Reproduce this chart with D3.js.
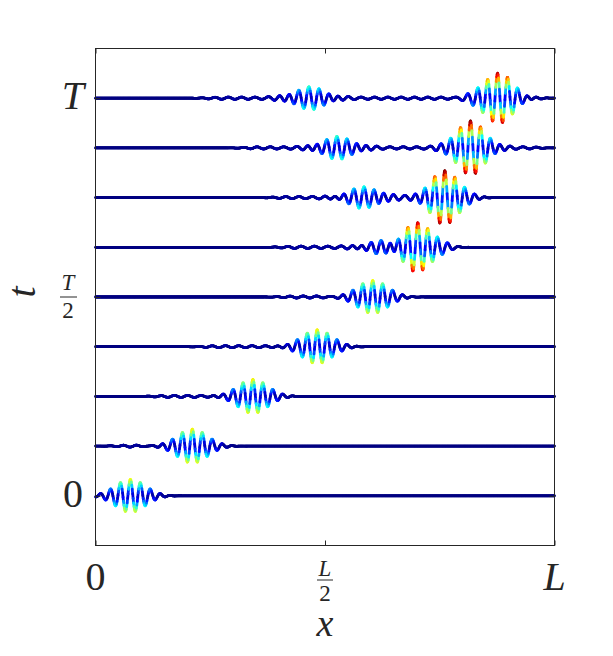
<!DOCTYPE html>
<html>
<head>
<meta charset="utf-8">
<script src="https://cdn.jsdelivr.net/npm/d3@7"></script>
<style>
  body { margin: 0; background: #fff; }
  text { font-family: "Liberation Serif", "Times New Roman", serif; fill: #262626; }
</style>
</head>
<body>
<div id="chart"></div>
<script>
// time levels, in units of T/8 (0 .. 8)
const times = [0, 1, 2, 3, 4, 5, 6, 7, 8];

// main wave packet: centre (fraction of L) and amplitude (in units of T/8)
const mainCentre = [0.076, 0.211, 0.343, 0.483, 0.604, 0.702, 0.761, 0.817, 0.876];
const mainAmp    = [0.33, 0.34, 0.34, 0.34, 0.33, 0.50, 0.52, 0.52, 0.50];

// smaller trailing packet (appears after the collision)
const sideCentre = [0, 0, 0, 0, 0, 0.625, 0.587, 0.528, 0.467];
const sideAmp    = [0, 0, 0, 0, 0, 0.13, 0.20, 0.21, 0.21];

// weak dispersive ripples: start / end along x
const rippleFrom = [0, 0.0, 0.09, 0.19, 0.36, 0.36, 0.35, 0.28, 0.2];
const rippleTo   = [0, 0.14, 0.28, 0.42, 0.55, 0.82, 0.83, 1.0, 1.0];
const rippleAmp  = [0, 0.02, 0.02, 0.02, 0.02, 0.022, 0.022, 0.022, 0.022];

const xTicks = [0, 0.5, 1];
const yTicks = [0, 4, 8];

const W = 613, H = 656;
const svg = d3.select("#chart").append("svg")
  .attr("width", W).attr("height", H);

const x = d3.scaleLinear().domain([0, 1]).range([95.5, 554.5]);
const y = d3.scaleLinear().domain([-1, 9]).range([545.5, 48.5]);

const kx = 2 * Math.PI * 46;   // carrier wavenumber
const sig = 0.046;             // packet width

function smooth(e0, e1, v) {
  const s = Math.max(0, Math.min(1, (v - e0) / (e1 - e0)));
  return s * s * (3 - 2 * s);
}

function wave(i, xv) {
  let u = mainAmp[i] * Math.exp(-Math.pow((xv - mainCentre[i]) / sig, 2)) * Math.cos(kx * (xv - mainCentre[i]));
  if (sideAmp[i] > 0)
    u += sideAmp[i] * Math.exp(-Math.pow((xv - sideCentre[i]) / (sig * 1.1), 2)) * Math.cos(kx * (xv - sideCentre[i]) + 0.6);
  if (rippleAmp[i] > 0) {
    const env = smooth(rippleFrom[i], rippleFrom[i] + 0.08, xv) * (1 - smooth(rippleTo[i] - 0.06, rippleTo[i], xv));
    u += rippleAmp[i] * env * Math.sin(kx * 0.75 * xv + i);
  }
  return u;
}

function jet(v) {
  v = Math.max(0, Math.min(1, v));
  const c = t => Math.round(255 * Math.max(0, Math.min(1, t)));
  return `rgb(${c(1.5 - Math.abs(4 * v - 3))},${c(1.5 - Math.abs(4 * v - 2))},${c(1.5 - Math.abs(4 * v - 1))})`;
}
const cmax = 0.52;

// draw traces as short coloured segments
const gLines = svg.append("g").attr("stroke-width", 2.8).attr("stroke-linecap", "round");
times.forEach((t, i) => {
  const n = 1000;
  const pts = d3.range(n + 1).map(j => {
    const xv = j / n;
    return [xv, wave(i, xv)];
  });
  const segs = d3.pairs(pts);
  gLines.append("g")
    .selectAll("line")
    .data(segs)
    .join("line")
    .attr("x1", d => x(d[0][0]))
    .attr("y1", d => y(t + d[0][1]))
    .attr("x2", d => x(d[1][0]))
    .attr("y2", d => y(t + d[1][1]))
    .attr("stroke", d => jet((Math.abs(d[0][1]) + Math.abs(d[1][1])) / 2 / cmax));
});

// axes box + ticks
const axisColor = "#262626";
svg.append("g").attr("transform", `translate(0,${y(-1)})`)
  .call(d3.axisBottom(x).tickValues(xTicks).tickSize(-5).tickFormat(""));
svg.append("g").attr("transform", `translate(0,${y(9)})`)
  .call(d3.axisTop(x).tickValues(xTicks).tickSize(-5).tickFormat(""));
svg.append("g").attr("transform", `translate(${x(0)},0)`)
  .call(d3.axisLeft(y).tickValues(yTicks).tickSize(-5).tickFormat(""));
svg.append("g").attr("transform", `translate(${x(1)},0)`)
  .call(d3.axisRight(y).tickValues(yTicks).tickSize(-5).tickFormat(""));
svg.selectAll(".domain").remove();
svg.selectAll(".tick line").attr("stroke", axisColor);
svg.append("rect")
  .attr("x", x(0)).attr("y", y(9))
  .attr("width", x(1) - x(0)).attr("height", y(-1) - y(9))
  .attr("fill", "none").attr("stroke", axisColor).attr("stroke-width", 1);

// tick labels
const big = 40, small = 23;
svg.append("text").attr("x", x(0)).attr("y", 590).attr("text-anchor", "middle")
  .attr("font-size", big).text("0");
svg.append("text").attr("x", x(1)).attr("y", 590).attr("text-anchor", "middle")
  .attr("font-size", big).attr("font-style", "italic").text("L");
svg.append("text").attr("x", x(0.5)).attr("y", 576).attr("text-anchor", "middle")
  .attr("font-size", small).attr("font-style", "italic").text("L");
svg.append("line").attr("x1", x(0.5) - 8).attr("x2", x(0.5) + 8).attr("y1", 580).attr("y2", 580)
  .attr("stroke", axisColor).attr("stroke-width", 1);
svg.append("text").attr("x", x(0.5)).attr("y", 601).attr("text-anchor", "middle")
  .attr("font-size", small).text("2");
svg.append("text").attr("x", x(0.5)).attr("y", 636).attr("text-anchor", "middle")
  .attr("font-size", 38).attr("font-style", "italic").text("x");

svg.append("text").attr("x", 83).attr("y", y(0) + 11).attr("text-anchor", "end")
  .attr("font-size", big).text("0");
svg.append("text").attr("x", 84).attr("y", y(8) + 11).attr("text-anchor", "end")
  .attr("font-size", big).attr("font-style", "italic").text("T");
svg.append("text").attr("x", 68).attr("y", 290).attr("text-anchor", "middle")
  .attr("font-size", small).attr("font-style", "italic").text("T");
svg.append("line").attr("x1", 60).attr("x2", 77).attr("y1", 297).attr("y2", 297)
  .attr("stroke", axisColor).attr("stroke-width", 1);
svg.append("text").attr("x", 68).attr("y", 318).attr("text-anchor", "middle")
  .attr("font-size", small).text("2");
svg.append("text").attr("transform", "translate(35,292) rotate(-90)").attr("text-anchor", "middle")
  .attr("font-size", big).attr("font-style", "italic").text("t");
</script>
</body>
</html>
